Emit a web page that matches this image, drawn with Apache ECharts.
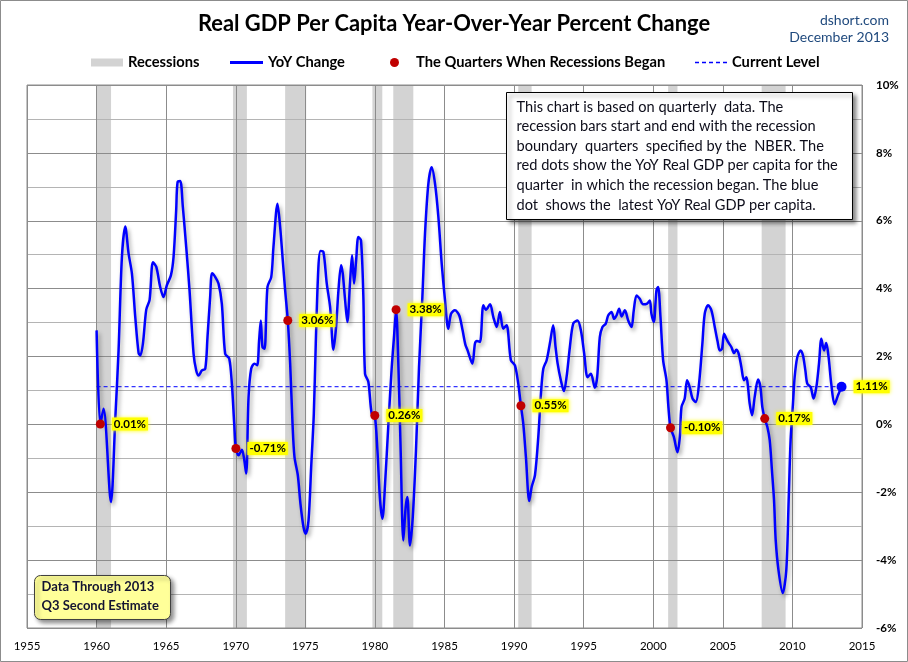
<!DOCTYPE html>
<html><head><meta charset="utf-8">
<script src="https://cdn.jsdelivr.net/npm/echarts@6/dist/echarts.min.js"></script>
<style>html,body{margin:0;padding:0;background:#fff}#c{width:908px;height:662px}</style>
</head><body><div id="c"></div>
<script>
// ---- data ----
const quarterYears = [
 1960.0,1960.27,1960.5,1961.03,1961.35,1961.58,1961.82,1962.06,1962.3,1962.54,1962.78,1963.02,1963.14,1963.33,1963.57,1963.81,
 1964.05,1964.29,1964.57,1964.81,1965.05,1965.34,1965.53,1965.72,1965.82,1966.01,1966.2,1966.44,1966.68,1966.97,1967.16,1967.33,
 1967.57,1967.81,1967.97,1968.16,1968.3,1968.53,1968.76,1969.0,1969.24,1969.53,1969.72,1969.89,1970.01,1970.2,1970.44,1970.58,
 1970.75,1970.92,1971.11,1971.35,1971.54,1971.68,1971.8,1971.92,1972.07,1972.28,1972.55,1972.71,1973.0,1973.19,1973.38,1973.55,
 1973.74,1973.91,1974.08,1974.22,1974.46,1974.65,1974.87,1975.03,1975.23,1975.42,1975.61,1975.75,1975.94,1976.09,1976.3,1976.54,
 1976.78,1977.02,1977.21,1977.38,1977.57,1977.69,1977.86,1978.02,1978.22,1978.36,1978.5,1978.65,1978.81,1979.0,1979.17,1979.29,
 1979.53,1979.77,1979.99,1980.18,1980.37,1980.54,1980.73,1980.97,1981.21,1981.37,1981.52,1981.69,1981.85,1982.04,1982.21,1982.33,
 1982.52,1982.72,1982.95,1983.17,1983.41,1983.6,1983.84,1984.08,1984.32,1984.56,1984.8,1985.04,1985.27,1985.47,1985.75,1986.06,
 1986.3,1986.5,1986.66,1987.0,1987.19,1987.33,1987.55,1987.79,1987.98,1988.27,1988.51,1988.75,1988.98,1989.22,1989.46,1989.77,
 1990.06,1990.3,1990.49,1990.66,1990.85,1991.09,1991.26,1991.5,1991.74,1991.93,1992.1,1992.34,1992.57,1992.81,1992.98,1993.13,
 1993.36,1993.58,1993.77,1994.01,1994.25,1994.56,1994.8,1995.04,1995.28,1995.52,1995.8,1995.97,1996.16,1996.35,1996.59,1996.76,
 1997.0,1997.19,1997.36,1997.55,1997.72,1997.96,1998.2,1998.44,1998.6,1998.8,1999.03,1999.27,1999.56,1999.75,1999.87,2000.04,
 2000.23,2000.35,2000.52,2000.71,2000.95,2001.09,2001.24,2001.48,2001.74,2001.91,2002.03,2002.26,2002.43,2002.62,2002.82,2003.06,
 2003.29,2003.53,2003.7,2003.94,2004.18,2004.42,2004.62,2004.78,2004.94,2005.09,2005.26,2005.42,2005.61,2005.81,2005.97,2006.14,
 2006.33,2006.52,2006.69,2006.81,2006.93,2007.1,2007.29,2007.53,2007.7,2007.84,2008.01,2008.2,2008.37,2008.53,2008.68,2008.8,
 2009.0,2009.3,2009.56,2009.73,2009.87,2010.04,2010.16,2010.35,2010.59,2010.76,2010.93,2011.07,2011.31,2011.52,2011.72,2011.91,
 2012.08,2012.27,2012.43,2012.6,2012.79,2013.03,2013.27,2013.53
];
const yoyChange = [
 2.77,0.01,0.46,-2.29,0.22,2.18,4.93,5.83,5.03,4.44,3.16,2.10,2.03,2.38,3.38,3.67,
 4.78,4.64,4.05,3.75,4.10,4.39,4.93,6.31,7.14,7.17,6.40,5.23,3.95,2.08,1.59,1.44,
 1.59,1.64,2.57,3.75,4.45,4.34,4.15,3.56,2.08,1.94,1.20,0.02,-0.71,-0.91,-0.75,-0.96,
 -1.45,0.81,1.64,1.79,1.74,2.48,3.06,2.28,2.23,4.05,4.34,5.23,6.50,5.82,4.83,3.95,
 3.06,1.79,0.02,-0.96,-1.50,-2.34,-3.03,-3.22,-2.83,-1.26,0.31,2.38,4.64,5.11,5.08,4.15,
 3.46,2.20,2.87,3.95,4.69,4.44,3.65,3.02,4.24,4.98,4.15,4.83,5.52,5.42,3.75,1.49,
 1.25,0.31,0.26,-0.77,-2.24,-2.78,-1.75,0.02,1.69,2.57,3.38,1.69,-0.77,-3.42,-2.44,-2.14,
 -3.57,-2.73,-0.77,1.69,3.75,5.62,7.09,7.58,7.09,6.11,4.73,3.65,2.82,3.26,3.36,3.21,
 2.77,2.35,2.18,1.79,2.38,2.46,2.43,3.51,3.38,3.54,3.16,2.87,3.31,2.82,2.92,1.89,
 1.74,1.20,0.55,0.02,-0.96,-2.26,-1.85,-1.50,-0.37,0.90,1.64,1.89,2.38,2.92,2.28,1.79,
 1.30,0.98,1.39,2.28,2.97,3.06,2.77,2.08,1.39,1.49,1.08,1.39,2.57,2.87,2.97,3.21,
 3.31,3.11,3.21,3.41,3.18,3.36,3.06,2.87,3.36,3.80,3.70,3.54,3.56,3.65,3.26,3.02,
 3.95,4.05,3.16,1.89,1.30,0.51,-0.10,-0.37,-0.82,-0.37,0.51,0.76,1.30,1.10,0.76,0.66,
 1.20,2.38,3.26,3.51,3.36,2.87,2.45,2.18,2.23,2.67,2.52,2.40,2.28,2.10,2.20,2.08,
 1.69,1.30,1.39,1.10,0.61,0.27,0.81,1.32,1.10,0.51,0.17,-0.08,-0.47,-1.36,-2.24,-3.42,
 -4.30,-4.97,-4.30,-2.24,-0.47,0.61,1.39,1.98,2.18,2.03,1.59,1.20,1.10,0.76,1.10,1.79,
 2.52,2.18,2.40,1.98,1.20,0.59,0.85,1.11
];
const recessionStart = [1960.03, 1969.80, 1973.55, 1979.82, 1981.32, 1990.30, 2001.07, 2007.79];
const recessionEnd   = [1961.04, 1970.80, 1975.06, 1980.53, 1982.76, 1991.26, 2001.74, 2009.51];
const recessionBeganYears  = [1960.27, 1970.01, 1973.74, 1979.99, 1981.52, 1990.49, 2001.24, 2008.01];
const recessionBeganValues = [0.01, -0.71, 3.06, 0.26, 3.38, 0.55, -0.10, 0.17];
const latestYear = 2013.53;
const latestValue = 1.11;
const xTickMin = 1955, xTickMax = 2015, xTickStep = 5;
const yTickMin = -6, yTickMax = 10, yTickStep = 2;
const infoLines = [
 'This chart is based on quarterly  data. The',
 'recession bars start and end with the recession',
 'boundary  quarters  specified by the  NBER. The',
 'red dots show the YoY Real GDP per capita for the',
 'quarter  in which the recession began. The blue',
 'dot  shows the  latest YoY Real GDP per capita.'
];
const noteLines = ['Data Through 2013', 'Q3 Second Estimate'];

// ---- chart ----
const FONT = 'Lato, "Open Sans", sans-serif';
const chart = echarts.init(document.getElementById('c'), null, {renderer: 'canvas'});

const lineData = quarterYears.map((x, i) => [x, yoyChange[i]]);
const recData = recessionStart.map((s, i) => [s, recessionEnd[i]]);
const dotData = recessionBeganYears.map((x, i) => [x, recessionBeganValues[i]]);

const pctLabel = {
  show: true, position: 'right', distance: 7,
  formatter: p => p.value[1].toFixed(2) + '%',
  fontFamily: FONT, fontWeight: 'bold', fontSize: 11.5, color: '#000',
  backgroundColor: '#ffff00', padding: [1, 2, 0, 2],
  shadowColor: 'rgba(255,255,0,0.9)', shadowBlur: 4
};

const legendBase = {
  top: 55, padding: 0, selectedMode: false,
  textStyle: {fontFamily: FONT, fontWeight: 'bold', fontSize: 14.7, color: '#000'}
};

chart.setOption({
  animation: false,
  backgroundColor: '#fff',
  title: {
    text: 'Real GDP Per Capita Year-Over-Year Percent Change',
    left: 'center', top: 13, padding: 0,
    textStyle: {fontFamily: FONT, fontWeight: 'bold', fontSize: 21.9, color: '#000'}
  },
  legend: [
    Object.assign({}, legendBase, {left: 91, itemWidth: 32, itemHeight: 8,
      data: [{name: 'Recessions', icon: 'rect'}]}),
    Object.assign({}, legendBase, {left: 230, itemWidth: 33, itemHeight: 3,
      data: [{name: 'YoY Change', icon: 'rect'}]}),
    Object.assign({}, legendBase, {left: 390, itemWidth: 33, itemHeight: 9,
      data: [{name: 'The Quarters When Recessions Began', icon: 'circle'}]}),
    Object.assign({}, legendBase, {left: 695, itemWidth: 32, itemHeight: 1.5,
      data: [{name: 'Current Level', icon: 'path://M0 0h4v1.5h-4z M7 0h4v1.5h-4z M14 0h4v1.5h-4z M21 0h4v1.5h-4z M28 0h4v1.5h-4z'}]})
  ],
  grid: {left: 27, right: 46, top: 85, bottom: 34, show: true, borderColor: '#8c8c8c', borderWidth: 1, z: 3},
  xAxis: {
    type: 'value', min: xTickMin, max: xTickMax, interval: xTickStep, z: 3,
    axisLine: {show: false}, axisTick: {show: false},
    axisLabel: {fontFamily: FONT, fontSize: 11.5, color: '#000', margin: 12, formatter: v => String(v)},
    splitLine: {show: true, lineStyle: {color: '#8c8c8c', width: 1}}
  },
  yAxis: {
    type: 'value', position: 'right', min: yTickMin, max: yTickMax, interval: yTickStep, z: 3,
    axisLine: {show: false}, axisTick: {show: false},
    axisLabel: {fontFamily: FONT, fontSize: 11.5, fontWeight: 'bold', color: '#000', margin: 14, formatter: '{value}%'},
    splitLine: {show: true, lineStyle: {color: '#8c8c8c', width: 1}},
    minorTick: {show: false, splitNumber: 2},
    minorSplitLine: {show: true, lineStyle: {color: '#b4b4b4', width: 1}}
  },
  series: [
    {
      name: 'Recessions', type: 'custom', z: 1, clip: true,
      itemStyle: {color: '#d3d3d3'},
      encode: {x: [0, 1]},
      data: recData,
      renderItem: (params, api) => {
        const p0 = api.coord([api.value(0), yTickMax]);
        const p1 = api.coord([api.value(1), yTickMin]);
        return {type: 'rect', shape: {x: p0[0], y: p0[1], width: p1[0] - p0[0], height: p1[1] - p0[1]},
                style: {fill: '#d3d3d3'}};
      }
    },
    {
      name: 'Current Level', type: 'line', z: 4, symbol: 'none', silent: true,
      data: [[quarterYears[0], latestValue], [latestYear, latestValue]],
      itemStyle: {color: '#0000ff'},
      lineStyle: {color: '#0000ff', width: 1, type: [4, 3]}
    },
    {
      name: 'YoY Change', type: 'line', z: 5, symbol: 'none', smooth: 0.3,
      data: lineData,
      itemStyle: {color: '#0000ff'},
      lineStyle: {color: '#0000ff', width: 2.5, shadowColor: 'rgba(0,0,0,0.35)', shadowBlur: 4, shadowOffsetX: 2, shadowOffsetY: 3}
    },
    {
      name: 'The Quarters When Recessions Began', type: 'scatter', z: 6, symbolSize: 9,
      itemStyle: {color: '#c00000', opacity: 1},
      data: dotData, label: pctLabel
    },
    {
      name: 'Latest', type: 'scatter', z: 6, symbolSize: 10,
      itemStyle: {color: '#0000ff', opacity: 1},
      data: [[latestYear, latestValue]], label: pctLabel
    }
  ],
  graphic: [
    {type: 'rect', z: 100, silent: true, shape: {x: 0.5, y: 0.5, width: 907, height: 661},
     style: {fill: 'none', stroke: '#8c8c8c', lineWidth: 1}},
    {type: 'text', z: 100, x: 889, y: 20, style: {text: 'dshort.com', align: 'right', verticalAlign: 'middle',
     font: '14px ' + FONT, fill: '#1f497d'}},
    {type: 'text', z: 100, x: 889, y: 37.5, style: {text: 'December 2013', align: 'right', verticalAlign: 'middle',
     font: '14px ' + FONT, fill: '#1f497d'}},
    {type: 'rect', z: 100, shape: {x: 506.5, y: 92.5, width: 346, height: 127},
     style: {fill: '#fff', stroke: '#000', lineWidth: 1, shadowColor: 'rgba(0,0,0,0.45)', shadowBlur: 4, shadowOffsetX: 3, shadowOffsetY: 3}},
    {type: 'text', z: 101, x: 516.5, y: 97, style: {text: infoLines.join('\n'), lineHeight: 19.64,
     font: '14.6px ' + FONT, fill: '#0d0d1a', verticalAlign: 'top'}},
    {type: 'rect', z: 100, shape: {x: 34.5, y: 575.5, width: 136, height: 44, r: 6},
     style: {fill: '#ffff99', stroke: '#404040', lineWidth: 1, shadowColor: 'rgba(0,0,0,0.45)', shadowBlur: 4, shadowOffsetX: 3, shadowOffsetY: 3}},
    {type: 'text', z: 101, x: 41.5, y: 577.5, style: {text: noteLines.join('\n'), lineHeight: 19,
     font: 'bold 13px ' + FONT, fill: '#141432', verticalAlign: 'top'}}
  ]
});
</script>
</body></html>
